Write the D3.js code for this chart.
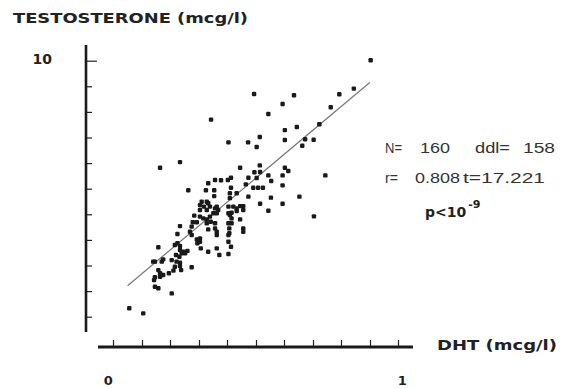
<!DOCTYPE html>
<html>
<head>
<meta charset="utf-8">
<script src="https://cdn.jsdelivr.net/npm/d3@7"></script>
<style>
    body { margin: 0; background: #fff; }
    #chart-area { width: 568px; height: 388px; }
    .axis text { display: none; }
    .axis .tick line { stroke: #222; stroke-width: 1.2; }
</style>
</head>
<body>
<div id="chart-area"></div>
<script>

// DHT (mcg/l)
let dht = [
    0.903, 0.494, 0.634, 0.594, 0.544, 0.793, 0.844, 0.763, 0.723, 0.602,
    0.644, 0.602, 0.673, 0.703, 0.663, 0.514, 0.473, 0.503, 0.404, 0.343,
    0.234, 0.164, 0.445, 0.514, 0.602, 0.614, 0.594, 0.744, 0.495, 0.515,
    0.503, 0.474, 0.544, 0.554, 0.465, 0.594, 0.491, 0.508, 0.525, 0.413,
    0.413, 0.433, 0.474, 0.553, 0.653, 0.515, 0.594, 0.544, 0.704, 0.445,
    0.456, 0.456, 0.433, 0.415, 0.415, 0.445, 0.456, 0.415, 0.263, 0.333,
    0.357, 0.378, 0.402, 0.325, 0.354, 0.354, 0.409, 0.310, 0.328, 0.304,
    0.318, 0.333, 0.304, 0.328, 0.339, 0.357, 0.363, 0.351, 0.234, 0.225,
    0.284, 0.304, 0.279, 0.293, 0.316, 0.328, 0.339, 0.328, 0.342, 0.357,
    0.357, 0.363, 0.363, 0.404, 0.404, 0.404, 0.407, 0.407, 0.404, 0.413,
    0.404, 0.421, 0.456, 0.333, 0.269, 0.275, 0.304, 0.293, 0.304, 0.295,
    0.307, 0.333, 0.363, 0.372, 0.275, 0.225, 0.216, 0.234, 0.234, 0.220,
    0.232, 0.240, 0.246, 0.260, 0.252, 0.158, 0.205, 0.222, 0.234, 0.216,
    0.234, 0.238, 0.211, 0.175, 0.170, 0.146, 0.140, 0.275, 0.195, 0.175,
    0.164, 0.158, 0.164, 0.146, 0.143, 0.146, 0.158, 0.205, 0.056, 0.105,
    0.433, 0.409, 0.368, 0.363, 0.404, 0.409
];

// testosterone (mcg/l), same order
let testosterone = [
    10.02, 8.70, 8.65, 8.31, 7.92, 8.69, 8.91, 8.18, 7.52, 7.29,
    7.41, 6.90, 6.93, 6.91, 6.68, 7.02, 6.81, 6.63, 6.81, 7.70,
    6.04, 5.82, 5.82, 5.91, 5.82, 5.69, 5.52, 5.52, 5.64, 5.65,
    5.42, 5.43, 5.52, 5.30, 5.17, 5.13, 5.04, 5.04, 5.04, 5.43,
    5.04, 4.82, 4.69, 4.65, 4.69, 4.41, 4.41, 4.14, 3.92, 4.32,
    4.32, 4.17, 4.13, 4.06, 3.84, 3.80, 3.45, 3.65, 4.94, 5.21,
    5.34, 5.33, 5.34, 4.94, 4.94, 4.71, 4.82, 4.49, 4.49, 4.36,
    4.30, 4.43, 4.17, 4.17, 4.30, 4.23, 4.04, 4.04, 3.54, 3.23,
    3.95, 3.91, 3.69, 3.69, 3.84, 3.80, 3.91, 3.65, 3.71, 3.65,
    3.45, 3.32, 3.19, 4.30, 4.04, 3.65, 3.45, 3.26, 2.93, 2.73,
    2.45, 4.30, 3.32, 3.41, 3.32, 3.52, 3.06, 3.02, 2.93, 2.87,
    2.67, 2.54, 2.67, 2.41, 3.19, 2.87, 2.80, 2.76, 2.61, 2.41,
    2.34, 2.48, 2.54, 2.57, 2.48, 2.71, 2.21, 2.15, 2.11, 1.95,
    1.98, 1.82, 1.80, 2.24, 2.15, 2.15, 2.15, 1.93, 1.70, 1.63,
    1.70, 1.82, 1.56, 1.54, 1.43, 1.17, 1.11, 0.91, 0.33, 0.13,
    4.23, 3.97, 4.17, 4.30, 3.19, 4.63
];

// regression line end points
let regX = [0.05, 0.90];
let regY = [1.21, 9.15];

// ticks
let xTicks = [0, 0.1, 0.2, 0.3, 0.4, 0.5, 0.6, 0.7, 0.8, 0.9, 1];
let yTicks = [0, 1, 2, 3, 4, 5, 6, 7, 8, 9, 10];
let xTickLabels = ["0", "1"];
let yTickLabels = ["10"];

// stats block, one list per line
let statLine1 = ["N=", "160", "ddl=", "158"];
let statLine2 = ["r=", "0.808", "t=17.221"];


class ScatterVis {

    constructor(parentElement) {
        this.parentElement = parentElement;
        this.displayData = dht.map((d, i) => ({x: d, y: testosterone[i]}));
        this.initVis();
    }

    initVis() {
        let vis = this;

        vis.svg = d3.select("#" + vis.parentElement).append("svg")
            .attr("width", 568)
            .attr("height", 388);

        // scales
        vis.x = d3.scaleLinear().domain([0, 1]).range([113.3, 398.3]);
        vis.y = d3.scaleLinear().domain([0, 10]).range([316.7, 60.7]);

        // y axis: ticks to the right, thick spine drawn separately
        vis.yAxis = d3.axisRight(vis.y).tickValues(yTicks).tickSize(6).tickSizeOuter(0);
        let gy = vis.svg.append("g")
            .attr("class", "axis y-axis")
            .attr("transform", "translate(86,0)")
            .call(vis.yAxis);
        gy.select(".domain").remove();
        gy.selectAll(".tick line").filter(d => d === 10).attr("x2", 11);

        vis.svg.append("line")
            .attr("x1", 86).attr("x2", 86)
            .attr("y1", 45).attr("y2", 332)
            .attr("stroke", "#1a1a1a")
            .attr("stroke-width", 2.6);

        // x axis: short ticks pointing up from the spine
        vis.svg.selectAll(".x-tick")
            .data(xTicks)
            .enter().append("line")
            .attr("class", "x-tick")
            .attr("x1", d => Math.round(vis.x(d)) + 0.5)
            .attr("x2", d => Math.round(vis.x(d)) + 0.5)
            .attr("y1", 340)
            .attr("y2", 347)
            .attr("stroke", "#222")
            .attr("stroke-width", 1.2);

        vis.svg.append("line")
            .attr("x1", 98).attr("x2", 413)
            .attr("y1", 347).attr("y2", 347)
            .attr("stroke", "#1a1a1a")
            .attr("stroke-width", 2.8);

        // tick labels
        vis.svg.selectAll(".x-label")
            .data(xTickLabels)
            .enter().append("text")
            .attr("class", "x-label")
            .attr("x", d => vis.x(+d) + (d === "0" ? -5 : 4))
            .attr("y", 385)
            .attr("text-anchor", "middle")
            .style("font", "bold 13px 'DejaVu Sans'")
            .attr("fill", "#222")
            .text(d => d);

        vis.svg.selectAll(".y-label")
            .data(yTickLabels)
            .enter().append("text")
            .attr("class", "y-label")
            .attr("x", 52)
            .attr("y", vis.y(10) + 3)
            .attr("text-anchor", "end")
            .style("font", "bold 14px 'DejaVu Sans'")
            .attr("fill", "#222")
            .text(d => d);

        // axis titles
        vis.svg.append("text")
            .attr("x", 13).attr("y", 22.5)
            .attr("textLength", 235).attr("lengthAdjust", "spacingAndGlyphs")
            .style("font", "bold 14px 'DejaVu Sans'")
            .attr("fill", "#222")
            .text("TESTOSTERONE (mcg/l)");

        vis.svg.append("text")
            .attr("x", 437).attr("y", 350)
            .attr("textLength", 120).attr("lengthAdjust", "spacingAndGlyphs")
            .style("font", "bold 14px 'DejaVu Sans'")
            .attr("fill", "#222")
            .text("DHT (mcg/l)");

        // stats, each piece placed where it sits in the picture
        let line1X = [385, 420, 475, 523];
        let line1W = [17, 30, 35, 32];
        let line2X = [385, 415, 463];
        let line2W = [13, 45, 82];

        vis.svg.selectAll(".stat1")
            .data(statLine1)
            .enter().append("text")
            .attr("class", "stat1")
            .attr("x", (d, i) => line1X[i])
            .attr("y", 153)
            .attr("textLength", (d, i) => line1W[i])
            .attr("lengthAdjust", "spacingAndGlyphs")
            .style("font", "14px 'Liberation Sans'")
            .attr("fill", "#333")
            .text(d => d);

        vis.svg.selectAll(".stat2")
            .data(statLine2)
            .enter().append("text")
            .attr("class", "stat2")
            .attr("x", (d, i) => line2X[i])
            .attr("y", 183)
            .attr("textLength", (d, i) => line2W[i])
            .attr("lengthAdjust", "spacingAndGlyphs")
            .style("font", "14px 'Liberation Sans'")
            .attr("fill", "#333")
            .text(d => d);

        let p = vis.svg.append("text")
            .attr("x", 425).attr("y", 217)
            .style("font", "bold 14px 'DejaVu Sans'")
            .attr("fill", "#222");
        p.append("tspan").text("p<10");
        p.append("tspan").attr("dx", 2).attr("dy", -9).style("font-size", "11px").text("-9");

        vis.updateVis();
    }

    updateVis() {
        let vis = this;

        // regression line
        vis.svg.append("line")
            .attr("x1", vis.x(regX[0])).attr("y1", vis.y(regY[0]))
            .attr("x2", vis.x(regX[1])).attr("y2", vis.y(regY[1]))
            .attr("stroke", "#777")
            .attr("stroke-width", 1.2);

        // dots
        let dot = vis.svg.selectAll(".dot")
            .data(vis.displayData);

        dot.enter().append("rect")
            .attr("class", "dot")
            .merge(dot)
            .attr("x", d => vis.x(d.x) - 2.2)
            .attr("y", d => vis.y(d.y) - 2.2)
            .attr("width", 4.4)
            .attr("height", 4.4)
            .attr("rx", 1.2)
            .attr("fill", "#1a1a1a");

        dot.exit().remove();
    }
}

new ScatterVis("chart-area");

</script>
</body>
</html>
